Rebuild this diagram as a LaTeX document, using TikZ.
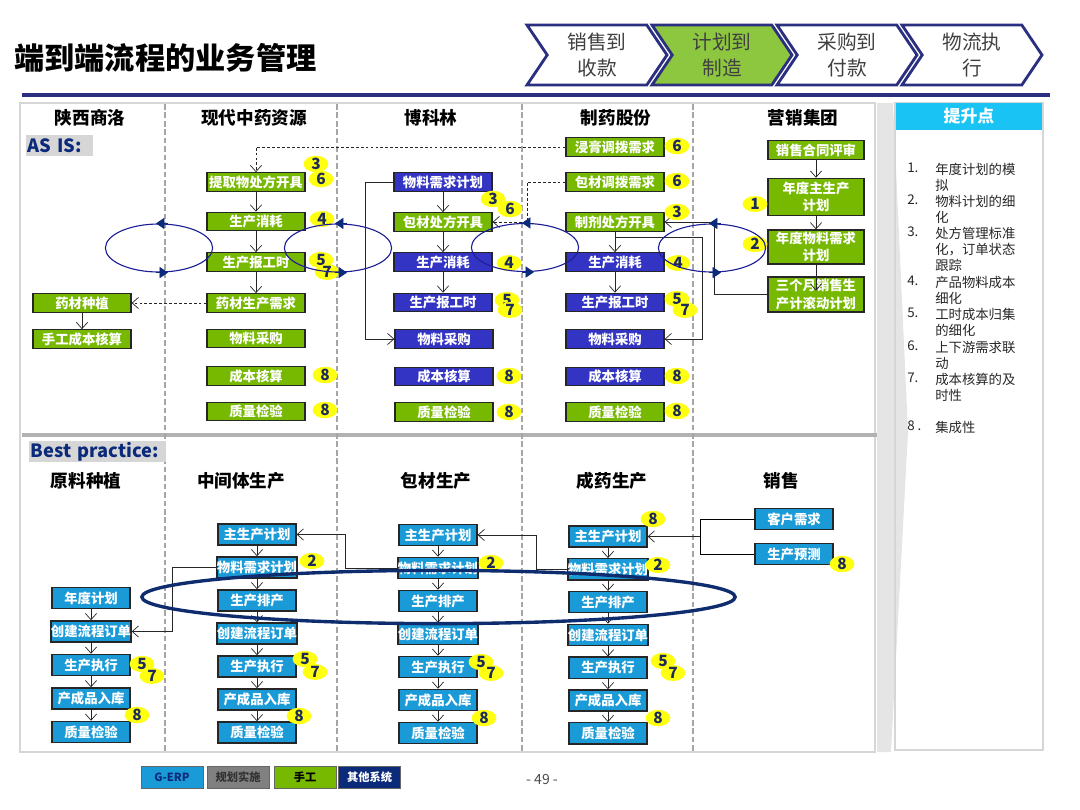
\documentclass[tikz,border=0pt]{standalone}
\usepackage{fontspec}
\setmainfont{Noto Sans CJK SC}
\setsansfont{Noto Sans CJK SC}
\usepackage{tikz}
\usetikzlibrary{arrows.meta,positioning,shapes.geometric,shapes.symbols,calc}
\definecolor{mg}{HTML}{76B900}
\definecolor{ob}{HTML}{3434C4}
\definecolor{eb}{HTML}{1A9BD7}
\definecolor{nv}{HTML}{0B2A7A}
\definecolor{yl}{HTML}{FFFF10}
\definecolor{rg}{HTML}{1E1E96}
\definecolor{hd}{HTML}{8DC63F}
\definecolor{hb}{HTML}{2B2F7F}
\definecolor{cy}{HTML}{19C3F3}
\definecolor{lg}{HTML}{D6D6D6}
\definecolor{bn}{HTML}{1C2B5A}
\definecolor{er}{HTML}{0F2D6E}

\begin{document}
\begin{tikzpicture}[x=0.025cm,y=-0.025cm,
  mbox/.style={rectangle,draw=black!85,fill=mg,text=white,minimum width=2.45cm,minimum height=0.46cm,inner sep=0pt,font=\fontsize{9.5}{12.5}\selectfont\bfseries,line width=0.9pt,align=center},
  obox/.style={mbox,fill=ob},
  ebox/.style={mbox,fill=eb,minimum width=1.95cm,minimum height=0.53cm},
  badge/.style={ellipse,fill=yl,minimum width=0.62cm,minimum height=0.37cm,inner sep=0pt,text=bn,font=\fontsize{11}{11}\selectfont\bfseries},
  ring/.style={ellipse,draw=rg,line width=0.8pt,minimum width=2.68cm,minimum height=1.2cm,inner sep=0pt},
  cyc/.style={-{Triangle[length=6pt,width=8pt]},draw=nv,line width=0.6pt},
  bigring/.style={ellipse,draw=er,line width=2.4pt,minimum width=14.83cm,minimum height=1.33cm,inner sep=0pt},
  arrow/.style={-{Straight Barb[length=4.5pt,width=8pt]},draw=black!85,line width=0.5pt},
  darrow/.style={arrow,dash pattern=on 2pt off 1.5pt},
  colhd/.style={inner sep=0pt,font=\fontsize{12.5}{14}\selectfont\bfseries},
  seclbl/.style={fill=lg,text=nv,anchor=west,align=left,inner xsep=1pt,inner ysep=0pt,minimum height=0.53cm,font=\fontsize{13}{14}\selectfont\bfseries},
  hdr/.style={signal,signal from=west,signal to=east,signal pointer angle=112,draw=hb,line width=2pt,minimum width=3.5cm,minimum height=1.5cm,inner sep=0pt,align=center,text=black!75,font=\fontsize{14}{18}\selectfont},
  itm/.style={anchor=north west,inner sep=0pt,align=left,text=black!85,font=\fontsize{9.5}{11.2}\selectfont},
  lgd/.style={rectangle,draw=black!60,line width=0.6pt,minimum width=1.55cm,minimum height=0.53cm,inner sep=0pt,font=\fontsize{8}{8}\selectfont\bfseries}]
\useasboundingbox (0,0) rectangle (1080,810);

% title and process chevrons
\node[anchor=west,inner sep=0pt,font=\fontsize{21.5}{24}\selectfont\bfseries](ttl) at (14,58){端到端流程的业务管理};
\foreach \t/\x/\f [count=\i] in {{销售到\\收款}/597/white,{计划到\\制造}/722/hd,{采购到\\付款}/847/white,{物流执\\行}/972/white}
  \node[hdr,fill=\f](h\i) at (\x,55){\t};
\draw[draw=hb,line width=2.2pt](22,95)--(1050,95);

% frames
\draw[draw=lg,line width=2pt](20,103) rectangle (875,752);
\draw[draw=gray!60,line width=2.2pt](22,435)--(877,435);
\foreach \x in {165,337,522,693}
  \draw[draw=gray!70,line width=1pt,dash pattern=on 4pt off 2pt](\x,104)--(\x,751);
\fill[gray!20](877,103)--(893,103)--(908,432)--(891,752)--(877,752)--cycle;
\draw[draw=lg,line width=1.5pt](895,103) rectangle (1043,750);
\node[fill=cy,minimum width=3.65cm,minimum height=0.68cm,inner sep=0pt,text=white,font=\fontsize{12}{14}\selectfont\bfseries](tsd) at (969,116.5){提升点};
\foreach \n/\t/\y [count=\i] in {1./{年度计划的模\\拟}/163,2./{物料计划的细\\化}/195,3./{处方管理标准\\化，订单状态\\跟踪}/227,4./{产品物料成本\\细化}/276,5./{工时成本归集\\的细化}/308,6./{上下游需求联\\动}/341,7./{成本核算的及\\时性}/373,{8 .}/集成性/421}{
  \node[itm](m\i) at (907,\y){\n};
  \node[itm](k\i) at (935,\y){\t};
}

% AS IS
\node[seclbl,text width=1.6cm](asis) at (26,145.5){AS IS:};
\node[colhd](ha1) at (90,118){陕西商洛};
\node[colhd](ha2) at (254,118){现代中药资源};
\node[colhd](ha3) at (431,118){博科林};
\node[colhd](ha4) at (616,118){制药股份};
\node[colhd](ha5) at (803,118){营销集团};

\node[mbox](a1) at (82,303){药材种植};
\node[mbox](a2) at (82,339){手工成本核算};

\node[mbox](b1) at (256,182){提取物处方开具};
\node[mbox](b2) at (256,221.5){生产消耗};
\node[mbox](b3) at (256,262){生产报工时};
\node[mbox](b4) at (256,303){药材生产需求};
\node[mbox](b5) at (256,338.5){物料采购};
\node[mbox](b6) at (256,376){成本核算};
\node[mbox](b7) at (256,411.5){质量检验};

\node[obox](c1) at (443,182){物料需求计划};
\node[mbox](c2) at (443,222){包材处方开具};
\node[obox](c3) at (443,262){生产消耗};
\node[obox](c4) at (443,302.5){生产报工时};
\node[obox](c5) at (444,339){物料采购};
\node[obox](c6) at (444,376.5){成本核算};
\node[mbox](c7) at (444,412){质量检验};

\node[mbox](d1) at (615,147){浸膏调拨需求};
\node[mbox](d2) at (615,182){包材调拨需求};
\node[mbox](d3) at (615,222){制剂处方开具};
\node[obox](d4) at (615,262){生产消耗};
\node[obox](d5) at (615,302.5){生产报工时};
\node[obox](d6) at (615,339){物料采购};
\node[obox](d7) at (615,376.5){成本核算};
\node[mbox](d8) at (615,412){质量检验};

\node[mbox,minimum width=2.4cm](e1) at (816,150){销售合同评审};
\node[mbox,minimum width=2.4cm,minimum height=0.93cm](e2) at (816,197){年度主生产\\计划};
\node[mbox,minimum width=2.4cm,minimum height=0.85cm](e3) at (816,247){年度物料需求\\计划};
\node[mbox,minimum width=2.4cm,minimum height=0.88cm](e4) at (816,294.5){三个月销售生\\产计滚动计划};

\foreach \a/\b in {a1/a2,b1/b2,b2/b3,b3/b4,c1/c2,c2/c3,c3/c4,d3/d4,d4/d5,e1/e2,e2/e3}
  \draw[arrow](\a)--(\b);
\draw[arrow](e3.south)--++(0,26);
\draw[darrow](d1.west)-|(b1.north);
\draw[darrow](d2.west)--++(-38,0)|-(c2.east);
\draw[darrow](b4.west)--(a1.east);
\draw[arrow](c1.west)--++(-28,0)|-(c5.west);
\draw[arrow]($(d3.south)+(0,6)$)--++(87,0)|-(d6.east);
\draw[arrow](e4.west)--++(-53,0)|-(d3.east);

% Best practice
\node[seclbl,text width=3.35cm](bp) at (29,451.5){Best practice:};
\node[colhd](hb1) at (86,481){原料种植};
\node[colhd](hb2) at (241,481){中间体生产};
\node[colhd](hb3) at (436,481){包材生产};
\node[colhd](hb4) at (612,481){成药生产};
\node[colhd](hb5) at (781,481){销售};

\foreach \t [count=\i] in {年度计划,创建流程订单,生产执行,产成品入库,质量检验}
  \node[ebox](p\i) at (91,598+33.5*\i-33.5){\t};
\foreach \t [count=\i] in {主生产计划,物料需求计划,生产排产,创建流程订单,生产执行,产成品入库,质量检验}{
  \node[ebox](q\i) at (257,534.5+33*\i-33){\t};
  \node[ebox](r\i) at (438,535+33*\i-33){\t};
  \node[ebox](s\i) at (608,536.5+32.8*\i-32.8){\t};
}
\node[ebox](t1) at (794,519){客户需求};
\node[ebox](t2) at (794,554){生产预测};

\foreach \c/\n in {p/4,q/6,r/6,s/6}
  \foreach \i in {1,...,\n}{
    \pgfmathtruncatemacro\j{\i+1}
    \draw[arrow](\c\i)--(\c\j);
  }
\draw[arrow](q2.west)--++(-44,0)|-(p2.east);
\draw[arrow](r2.west)--++(-52,0)|-(q1.east);
\draw[arrow](s2.west)--++(-31,0)|-(r1.east);
\draw(t1.west)--++(-54,0) coordinate(jn)|-(t2.west);
\draw[arrow](jn|-s1)--(s1.east);

% badges
\foreach \x/\y/\n [count=\i] in {316/164/3,321/179/6,322/219/4,321/260/5,327/272/7,325/375/8,325/410/8,
  493/199/3,510/209/6,509/263/4,507/300/5,510/310/7,509/376/8,509/412/8,
  677/146/6,677/181/6,677/212/3,678/263/4,677/299/5,685/310/7,677/376/8,677/411/8,
  755/204/1,755/244/2,
  142/664/5,152/676/7,137/715/8,312/561/2,305/659/5,315/672/7,299/716/8,
  491/563/2,481/662/5,491/673/7,484/718/8,653/519/8,658/565/2,663/661/5,673/673/7,658/718/8,842/564/8}
  \node[badge](g\i) at (\x,\y){\n};

% cycles
\foreach \i/\x/\y in {1/159/248,2/338/248,3/525/247.5,4/712/248}{
  \node[ring](o\i) at (\x,\y){};
  \draw[cyc]($(o\i.north)+(9,0)$)--($(o\i.north)+(-3,0)$);
  \draw[cyc]($(o\i.south)+(-3,0)$)--($(o\i.south)+(9,0)$);
}
\node[bigring](oo) at (438.5,597){};

% legend
\node[lgd,fill=eb,text=nv](l1) at (172,777.5){G-ERP};
\node[lgd,fill=gray,text=black!80](l2) at (238,777.5){规划实施};
\node[lgd,fill=mg,text=black](l3) at (305,777.5){手工};
\node[lgd,fill=nv,text=white](l4) at (369.5,777.5){其他系统};
\node[text=black!70,font=\fontsize{10}{10}\selectfont](pg) at (542,779){- 49 -};
\end{tikzpicture}
\end{document}
